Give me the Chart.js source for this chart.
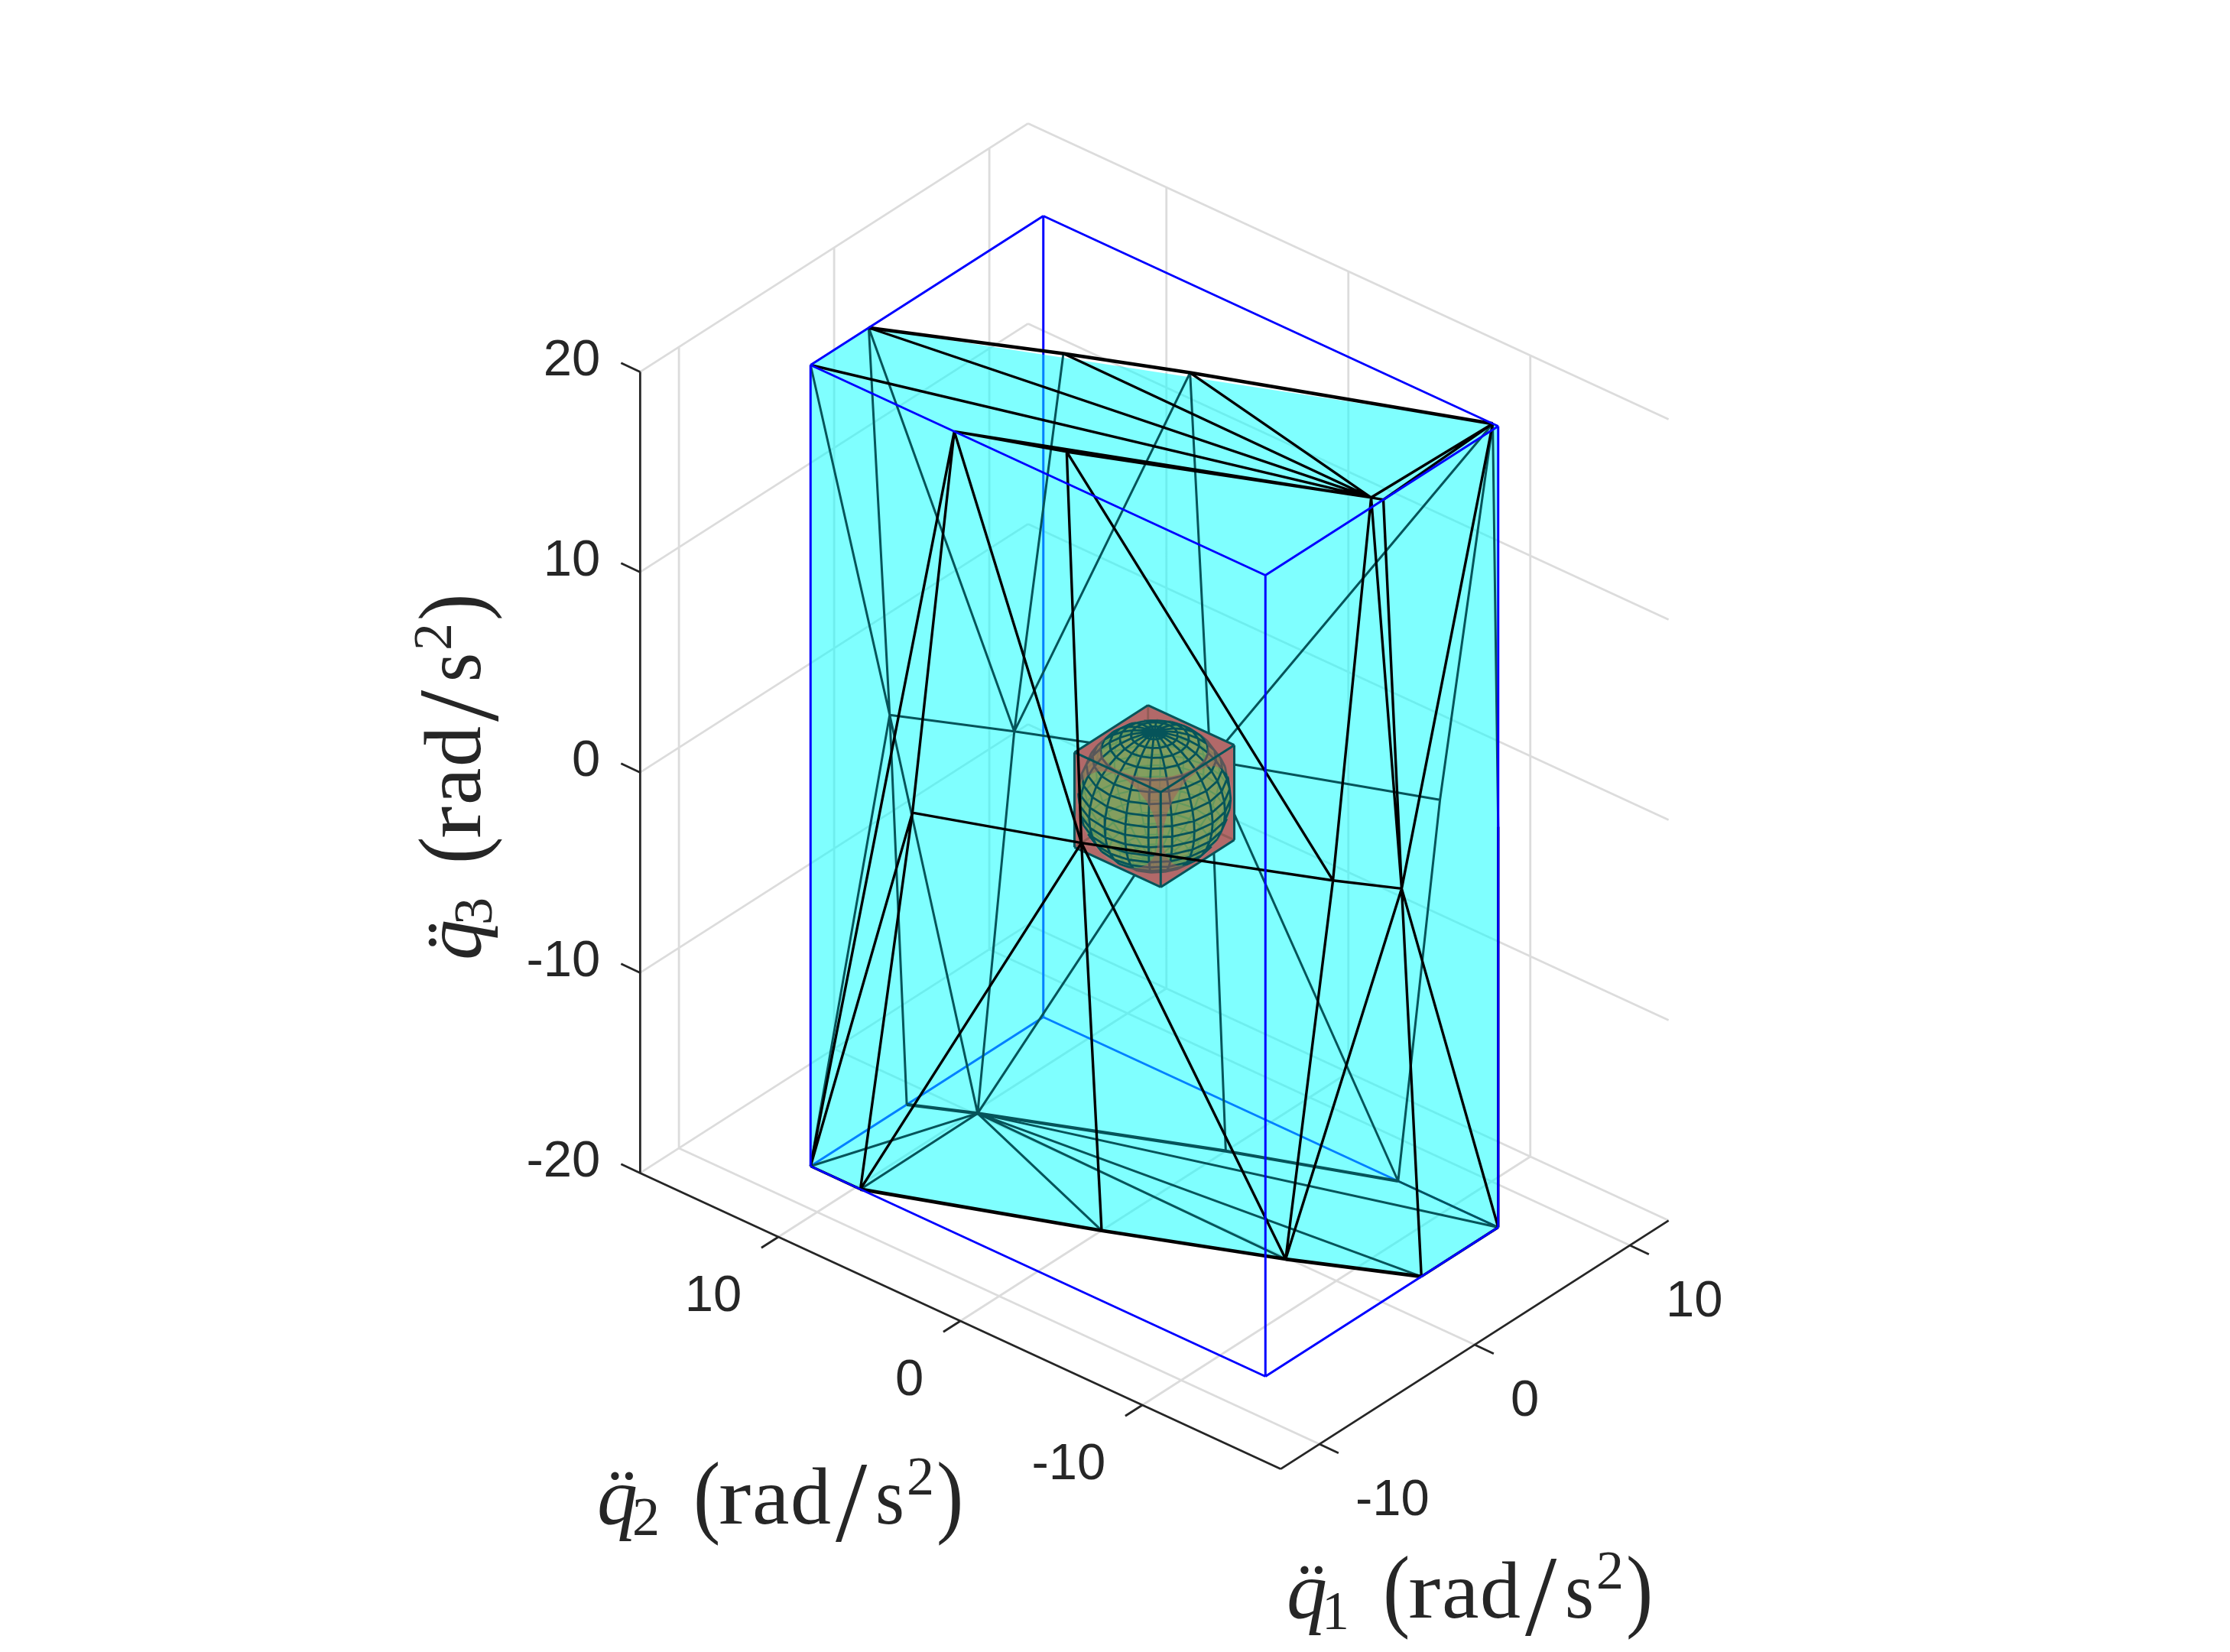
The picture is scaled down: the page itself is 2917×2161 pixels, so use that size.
<!DOCTYPE html>
<html>
<head>
<meta charset="utf-8">
<title>Acceleration polytope</title>
<script src="https://cdn.jsdelivr.net/npm/chart.js@4"></script>
<style>
  html, body { margin: 0; padding: 0; background: #fff; }
  canvas { display: block; }
</style>
</head>
<body>
<canvas id="chart" width="2917" height="2161"></canvas>
<script>
// axes
const q1Ticks = [-10, 0, 10]
const q2Ticks = [-10, 0, 10]
const q3Ticks = [-20, -10, 0, 10, 20]
const q1Lim = [-12.5, 12.5]
const q2Lim = [-17.6, 17.6]
const q3Lim = [-20, 20]

// blue box limits
const boxQ1 = [-7.5, 7.5]
const boxQ2 = [-12.5, 12.5]

// polytope vertices, by q3 level
const topLevel = {
  A: [-7.5, 12.5, 20], T1: [-3.75, 12.5, 20], T2: [0, 5, 20], T3: [2.3, 0, 20], T4: [7.5, -12.2, 20],
  T5: [-0.1, -12, 20], T6: [0.1, -12.5, 20], T7: [-5.65, 0, 20], T8: [-7.5, 4.6, 20], TR: [7.5, -12.5, 20]
}
const midLevel = {
  M1: [-2.4, 12.5, 0], M2: [0, 7.7, 0], M3: [3.6, 0, 0], M4: [7.5, -9.3, 0], M5: [-7.5, 6.9, 0],
  M6: [-4.7, 0, 0], M7: [-0.1, -9.9, 0], M8: [1.28, -12.5, 0], M9: [7.5, -12.5, 0]
}
const lowLevel = {
  B0: [-7.5, 12.5, -20], B1: [-7.5, 9.76, -20], B2: [0.1, 9.8, -20], B3: [-1.3, 12.5, -20], B4: [-3.4, 0, -20],
  B5: [-0.1, -7.3, -20], B6: [2.55, -12.5, -20], B7: [7.5, -12.5, -20], B8: [7.5, -7, -20], B9: [4.6, 0, -20]
}
const outline = ['A', 'T1', 'T4', 'TR', 'B7', 'B6', 'B5', 'B4', 'B1', 'B0']
const frontEdges = [
  'T8-T7', 'T7-T5', 'T8-T5', 'A-T5', 'T1-T5', 'T2-T5', 'T3-T5', 'T4-T5', 'T4-T6', 'T5-T6',
  'T8-B0', 'T8-M5', 'T8-M6', 'T7-M6', 'T7-M7', 'T5-M7', 'T5-M8', 'T6-M8', 'T4-M8',
  'M5-M6', 'M6-M7', 'M7-M8', 'M5-B0', 'M5-B1', 'M6-B1', 'M6-B4', 'M6-B5', 'M7-B5', 'M8-B5', 'M8-B6', 'M8-B7',
  'B0-B1', 'B6-B7', 'M9-B7'
]
const frontRims = ['T1-T2', 'T2-T3', 'T3-T4', 'B1-B4', 'B4-B5', 'B5-B6']
const backEdges = [
  'A-M1', 'T1-M1', 'T1-M2', 'T2-M2', 'T3-M2', 'T3-M3', 'T4-M3', 'T4-M4', 'T4-M9',
  'M1-B0', 'M1-B3', 'M1-B2', 'M2-B2', 'M3-B2', 'M3-B9', 'M3-B8', 'M4-B8',
  'M1-M2', 'M2-M3', 'M3-M4',
  'B2-B0', 'B2-B1', 'B2-B4', 'B2-B5', 'B2-B6', 'B2-B7', 'B8-B7'
]
const backRims = ['B3-B2', 'B2-B9', 'B9-B8']

// inner cube and sphere
const cubeHalf = 2.37
const sphereRadius = 3.2
const holeRadius = 2.24
const colatitudes = [0, 9, 18, 27, 36, 45, 54, 63, 72, 81, 90, 99, 108, 117, 126, 135, 144, 153, 162, 171, 180]
const longitudes = [0, 18, 36, 54, 72, 90, 108, 126, 144, 162, 180, 198, 216, 234, 252, 270, 288, 306, 324, 342, 360]
const circleAngles = [0, 15, 30, 45, 60, 75, 90, 105, 120, 135, 150, 165, 180, 195, 210, 225, 240, 255, 270, 285, 300, 315, 330, 345, 360]

// view: data units to picture, same as the 3d view in the reference
const view = { x0: 1510, y0: 1041.5, xq1: 20.3, xq2: -23.8, yq1: -13, yq2: -11, yq3: -26.2 }
const toViewer = [-0.637, -0.5436, 0.5446]
const screenRight = [0.649, -0.761, 0]
const screenUp = [0.4156, 0.3517, 0.8376]

const p = ([a, b, c]) => ({
  x: view.x0 + view.xq1 * a + view.xq2 * b,
  y: view.y0 + view.yq1 * a + view.yq2 * b + view.yq3 * c
})
const verts = { ...topLevel, ...midLevel, ...lowLevel }
const gap = { x: NaN, y: NaN }
const segs = (list) => list.flatMap(([a, b]) => [p(a), p(b), gap])
const named = (list) => segs(list.map(s => s.split('-').map(n => verts[n])))
const rad = (d) => d * Math.PI / 180

// grid + axes
const gridSegs = []
for (const a of q1Ticks) {
  gridSegs.push([[a, q2Lim[0], q3Lim[0]], [a, q2Lim[1], q3Lim[0]]])
  gridSegs.push([[a, q2Lim[1], q3Lim[0]], [a, q2Lim[1], q3Lim[1]]])
}
for (const b of q2Ticks) {
  gridSegs.push([[q1Lim[0], b, q3Lim[0]], [q1Lim[1], b, q3Lim[0]]])
  gridSegs.push([[q1Lim[1], b, q3Lim[0]], [q1Lim[1], b, q3Lim[1]]])
}
for (const c of q3Ticks) {
  gridSegs.push([[q1Lim[0], q2Lim[1], c], [q1Lim[1], q2Lim[1], c]])
  gridSegs.push([[q1Lim[1], q2Lim[0], c], [q1Lim[1], q2Lim[1], c]])
}
const axisSegs = [
  [[q1Lim[0], q2Lim[1], q3Lim[0]], [q1Lim[0], q2Lim[0], q3Lim[0]]],
  [[q1Lim[0], q2Lim[0], q3Lim[0]], [q1Lim[1], q2Lim[0], q3Lim[0]]],
  [[q1Lim[0], q2Lim[1], q3Lim[0]], [q1Lim[0], q2Lim[1], q3Lim[1]]]
]
for (const a of q1Ticks) axisSegs.push([[a, q2Lim[0], q3Lim[0]], [a, q2Lim[0] - 1.05, q3Lim[0]]])
for (const b of q2Ticks) axisSegs.push([[q1Lim[0], b, q3Lim[0]], [q1Lim[0] - 1.1, b, q3Lim[0]]])
for (const c of q3Ticks) axisSegs.push([[q1Lim[0], q2Lim[1], c], [q1Lim[0], q2Lim[1] + 1.05, c]])

// blue box
const [a0, a1] = boxQ1, [b0, b1] = boxQ2, [c0, c1] = q3Lim
const boxBack = [
  [[a1, b1, c0], [a1, b1, c1]],
  [[a1, b1, c0], [a0, b1, c0]],
  [[a1, b1, c0], [a1, b0, c0]]
]
const boxFront = [
  [[a0, b1, c0], [a0, b1, c1]], [[a1, b0, c0], [a1, b0, c1]], [[a0, b0, c0], [a0, b0, c1]],
  [[a0, b1, c1], [a1, b1, c1]], [[a1, b1, c1], [a1, b0, c1]], [[a1, b0, c1], [a0, b0, c1]], [[a0, b0, c1], [a0, b1, c1]],
  [[a0, b1, c0], [a0, b0, c0]], [[a0, b0, c0], [a1, b0, c0]]
]

// cube
const h = cubeHalf
const cubeHex = [[h, h, h], [h, -h, h], [h, -h, -h], [-h, -h, -h], [-h, h, -h], [-h, h, h], [h, h, h]]
const cubeHidden = [
  [[h, h, -h], [h, h, h]], [[h, h, -h], [-h, h, -h]], [[h, h, -h], [h, -h, -h]]
]
const cubeShown = [
  [[h, h, h], [h, -h, h]], [[h, -h, h], [h, -h, -h]], [[h, -h, -h], [-h, -h, -h]], [[-h, -h, -h], [-h, h, -h]],
  [[-h, h, -h], [-h, h, h]], [[-h, h, h], [h, h, h]],
  [[-h, -h, h], [h, -h, h]], [[-h, -h, h], [-h, h, h]], [[-h, -h, h], [-h, -h, -h]]
]

// sphere mesh, split by the side facing the viewer
const spherePoint = (co, lon) => [
  sphereRadius * Math.sin(rad(co)) * Math.cos(rad(lon)),
  sphereRadius * Math.sin(rad(co)) * Math.sin(rad(lon)),
  sphereRadius * Math.cos(rad(co))
]
const sphereFront = [], sphereBack = []
const addSeg = (u, v) => {
  const mid = [0, 1, 2].map(i => (u[i] + v[i]) / 2)
  const d = mid[0] * toViewer[0] + mid[1] * toViewer[1] + mid[2] * toViewer[2]
  ;(d >= 0 ? sphereFront : sphereBack).push([u, v])
}
colatitudes.forEach((co, i) => longitudes.forEach((lon, j) => {
  if (j > 0 && co > 0 && co < 180) addSeg(spherePoint(co, longitudes[j - 1]), spherePoint(co, lon))
  if (i > 0 && j < longitudes.length - 1) addSeg(spherePoint(colatitudes[i - 1], lon), spherePoint(co, lon))
}))
const sphereDisc = circleAngles.map(t => {
  const cs = Math.cos(rad(t)) * sphereRadius, sn = Math.sin(rad(t)) * sphereRadius
  return p([0, 1, 2].map(i => cs * screenRight[i] + sn * screenUp[i]))
})

// front cube faces with the hole where the sphere comes through
const faceWithHole = (e1, e2, centre) => {
  const at = (s, t) => [0, 1, 2].map(i => centre[i] + s * e1[i] + t * e2[i])
  const pts = [at(h, 0), at(h, h), at(-h, h), at(-h, -h), at(h, -h), at(h, 0)]
  const ring = circleAngles.map(t => at(holeRadius * Math.cos(rad(-t)), holeRadius * Math.sin(rad(-t))))
  return [...pts, ...ring, at(h, 0)].map(p)
}
const faces = [
  faceWithHole([1, 0, 0], [0, 1, 0], [0, 0, h]),
  faceWithHole([0, 1, 0], [0, 0, 1], [-h, 0, 0]),
  faceWithHole([1, 0, 0], [0, 0, 1], [0, -h, 0])
]

const lineSet = (data, color, width) => ({ data, borderColor: color, borderWidth: width, showLine: true, pointRadius: 0, fill: false, spanGaps: false, clip: false })
const areaSet = (data, color) => ({ data, backgroundColor: color, borderColor: 'rgba(0,0,0,0)', borderWidth: 0, showLine: true, pointRadius: 0, fill: 'shape', clip: false })

const layers = [
  lineSet(segs(gridSegs), '#dcdcdc', 2.8),
  lineSet(segs(axisSegs), '#262626', 2.8),
  lineSet(segs(boxBack), '#0000ff', 3),
  areaSet(outline.map(n => p(verts[n])), 'rgba(0,255,255,0.5)'),
  lineSet(named(backEdges), '#06545a', 3),
  lineSet(named(backRims), '#06545a', 4.2),
  areaSet(cubeHex.map(p), '#bb7878'),
  lineSet(segs(cubeHidden), '#7a5f55', 3),
  areaSet(sphereDisc, 'rgba(128,160,94,0.95)'),
  lineSet(segs(sphereBack), 'rgba(28,141,88,0.3)', 2.2),
  lineSet(segs(sphereFront), '#06545a', 2.8),
  ...faces.map(f => areaSet(f, 'rgba(170,90,90,0.5)')),
  lineSet(segs(cubeShown), '#06545a', 3),
  lineSet(named(frontEdges), '#000000', 3.4),
  lineSet(named(frontRims), '#000000', 4.6),
  lineSet(segs(boxFront), '#0000ff', 3)
]
layers.forEach((d, i) => { d.order = layers.length - i })

// text
const sansFont = '67px "Liberation Sans"'
const serif = (size) => `${size}px "Liberation Serif"`
const glyph = (ctx, text, x, y, sx, sy) => {
  ctx.save()
  ctx.translate(x, y)
  ctx.scale(sx, sy)
  ctx.fillText(text, 0, 0)
  ctx.restore()
}
const drawTitle = (ctx, ox, oy, angle, sub) => {
  ctx.save()
  ctx.translate(ox, oy)
  ctx.rotate(angle)
  ctx.fillStyle = '#262626'
  ctx.textAlign = 'left'
  ctx.textBaseline = 'alphabetic'
  ctx.font = 'italic ' + serif(106)
  ctx.fillText('q', 0, 0)
  ctx.font = serif(106)
  ctx.fillText('¨', 15, 0)
  ctx.font = serif(72)
  ctx.fillText(sub, 46, 15)
  ctx.font = serif(106)
  glyph(ctx, '(', 126, 3, 1, 1.13)
  glyph(ctx, 'r', 159, 0, 1.2, 1)
  glyph(ctx, 'a', 203, 0, 1.03, 1)
  glyph(ctx, 'd', 253, 0, 1, 1)
  glyph(ctx, '/', 312, 23, 1.4, 1.41)
  glyph(ctx, 's', 364, 0, 0.92, 1)
  glyph(ctx, ')', 444, 3, 1, 1.13)
  ctx.font = serif(72)
  ctx.fillText('2', 405, -38)
  ctx.restore()
}
const labelsPlugin = {
  id: 'labels3d',
  afterDatasetsDraw(chart) {
    const ctx = chart.ctx
    ctx.save()
    ctx.font = sansFont
    ctx.fillStyle = '#262626'
    ctx.textBaseline = 'middle'
    ctx.textAlign = 'right'
    for (const c of q3Ticks) {
      const t = p([q1Lim[0], q2Lim[1], c])
      ctx.fillText(String(c), t.x - 52, t.y - 14)
    }
    for (const b of q2Ticks) {
      const t = p([q1Lim[0], b, q3Lim[0]])
      ctx.fillText(String(b), t.x - 48, t.y + 79)
    }
    ctx.textAlign = 'left'
    for (const a of q1Ticks) {
      const t = p([a, q2Lim[0], q3Lim[0]])
      ctx.fillText(String(a), t.x + 47, t.y + 74)
    }
    ctx.restore()
    drawTitle(ctx, 1683, 2116, 0, '1')
    drawTitle(ctx, 781, 1993, 0, '2')
    drawTitle(ctx, 628, 1256, -Math.PI / 2, '3')
  }
}

new Chart(document.getElementById('chart'), {
  type: 'scatter',
  data: { datasets: layers },
  plugins: [labelsPlugin],
  options: {
    responsive: false,
    animation: false,
    layout: { padding: 0 },
    plugins: { legend: { display: false }, title: { display: false }, tooltip: { enabled: false } },
    scales: {
      x: { type: 'linear', display: false, min: 0, max: 2917 },
      y: { type: 'linear', display: false, min: 0, max: 2161, reverse: true }
    }
  }
})
</script>
</body>
</html>
